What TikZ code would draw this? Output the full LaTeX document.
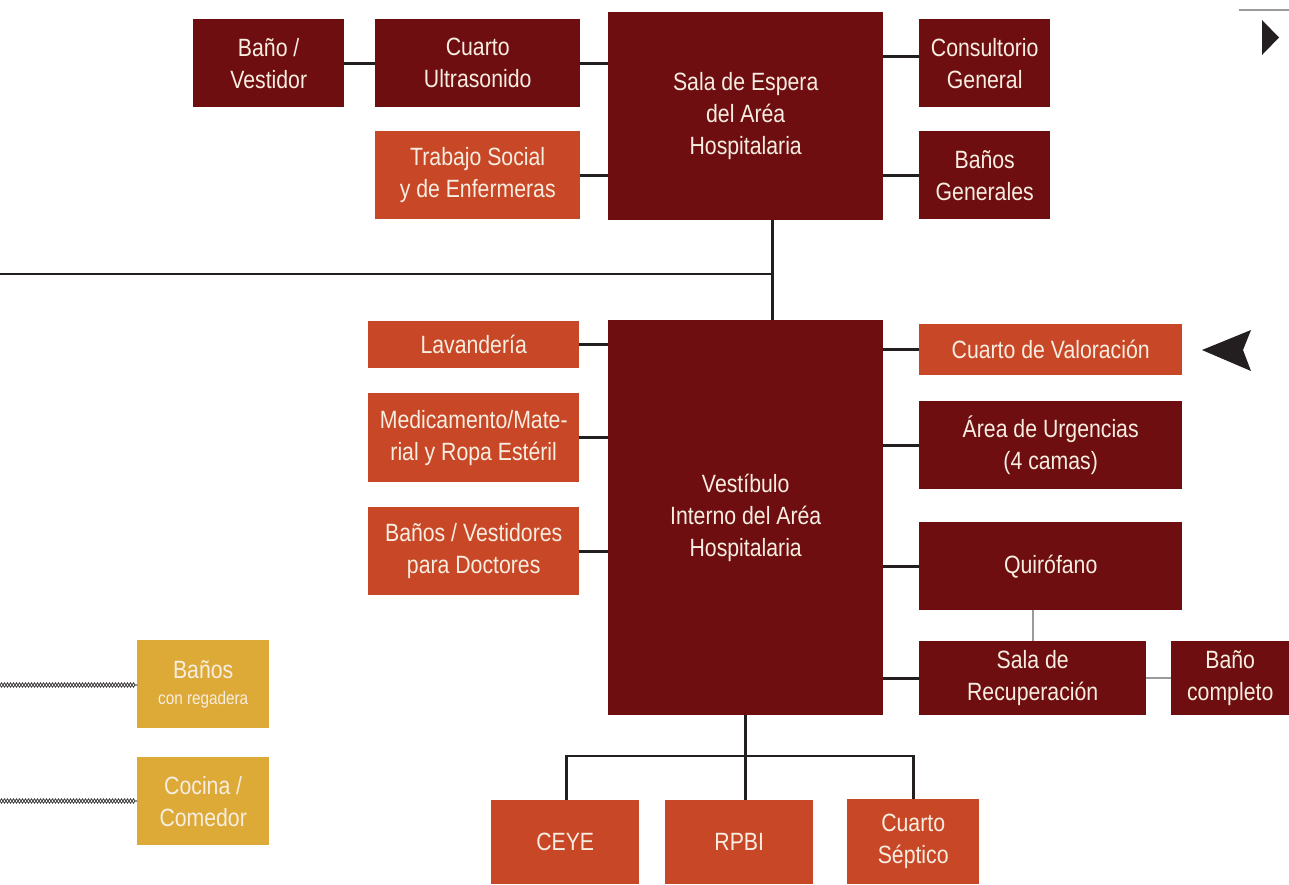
\documentclass[tikz,border=0pt]{standalone}
\usepackage{fontspec}
\setmainfont{Liberation Sans}[FakeStretch=0.85]
\usetikzlibrary{decorations.pathmorphing}
\definecolor{dred}{HTML}{6E0E10}
\definecolor{orng}{HTML}{C84727}
\definecolor{gold}{HTML}{DDAA37}
\definecolor{cream}{HTML}{F7EDE0}
\definecolor{ink}{HTML}{231F20}
\definecolor{gline}{HTML}{9A9A9A}
\tikzset{
  boxbase/.style={rectangle, inner sep=0pt, align=center, text=cream, anchor=north west,
    font=\fontsize{25}{32}\selectfont},
  dbox/.style={boxbase, fill=dred},
  obox/.style={boxbase, fill=orng},
  gbox/.style={boxbase, fill=gold},
  ln/.style={draw=ink, line width=2.6pt},
  gln/.style={draw=gline, line width=1.6pt},
  chainA/.style={draw=ink!85, line width=0.8pt, decorate, decoration={zigzag, segment length=6pt, amplitude=2.2pt}},
  chainB/.style={draw=ink!85, line width=0.8pt, decorate, decoration={zigzag, segment length=6pt, amplitude=-2.2pt}},
}
\begin{document}
\begin{tikzpicture}[x=1pt,y=-1pt]
\useasboundingbox (0,0) rectangle (1289,884);
% top area
\node[dbox, minimum width=151, minimum height=88] (banov) at (193,19) {Baño /\\Vestidor};
\node[dbox, minimum width=205, minimum height=88] (cuartou) at (375,19) {Cuarto\\Ultrasonido};
\node[dbox, minimum width=275, minimum height=208] (sala) at (608,12) {Sala de Espera\\del Aréa\\Hospitalaria};
\node[dbox, minimum width=131, minimum height=88] (consult) at (919,19) {Consultorio\\General};
\node[obox, minimum width=205, minimum height=88] (trabajo) at (375,131) {Trabajo Social\\y de Enfermeras};
\node[dbox, minimum width=131, minimum height=88] (banosg) at (919,131) {Baños\\Generales};
% middle
\node[obox, minimum width=211, minimum height=47] (lavan) at (368,321) {Lavandería};
\node[obox, minimum width=211, minimum height=89] (medic) at (368,393) {Medicamento/Mate-\\rial y Ropa Estéril};
\node[obox, minimum width=211, minimum height=88] (banosd) at (368,507) {Baños / Vestidores\\para Doctores};
\node[dbox, minimum width=275, minimum height=395] (vest) at (608,320) {Vestíbulo\\Interno del Aréa\\Hospitalaria};
\node[obox, minimum width=263, minimum height=51] (valor) at (919,324) {Cuarto de Valoración};
\node[dbox, minimum width=263, minimum height=88] (urg) at (919,401) {Área de Urgencias\\(4 camas)};
\node[dbox, minimum width=263, minimum height=88] (quiro) at (919,522) {Quirófano};
\node[dbox, minimum width=227, minimum height=74] (recup) at (919,641) {Sala de\\Recuperación};
\node[dbox, minimum width=118, minimum height=74] (banoc) at (1171,641) {Baño\\completo};
% left gold
\node[gbox, minimum width=132, minimum height=88] (banosr) at (137,640) {Baños\\[-6pt]{\fontsize{18}{22}\selectfont con regadera}};
\node[gbox, minimum width=132, minimum height=88] (cocina) at (137,757) {Cocina /\\Comedor};
% bottom
\node[obox, minimum width=148, minimum height=84] (ceye) at (491,800) {CEYE};
\node[obox, minimum width=148, minimum height=84] (rpbi) at (665,800) {RPBI};
\node[obox, minimum width=132, minimum height=85] (sept) at (847,799) {Cuarto\\Séptico};
% connectors top
\draw[ln] (banov.east) -- (cuartou.west);
\draw[ln] (cuartou.east) -- (cuartou.east -| sala.west);
\draw[ln] (trabajo.east) -- (trabajo.east -| sala.west);
\draw[ln] ([yshift=7pt]consult.west) -- ([yshift=7pt]consult.west -| sala.east);
\draw[ln] (banosg.west) -- (banosg.west -| sala.east);
\coordinate (sdrop) at ([xshift=26.5pt]sala.south);
\coordinate (hleft) at (0,274);
\draw[ln] (sdrop) -- (sdrop |- vest.north);
\draw[ln] (hleft) -- (hleft -| sdrop);
% connectors middle
\draw[ln] (lavan.east) -- (lavan.east -| vest.west);
\draw[ln] (medic.east) -- (medic.east -| vest.west);
\draw[ln] (banosd.east) -- (banosd.east -| vest.west);
\draw[ln] (valor.west) -- (valor.west -| vest.east);
\draw[ln] (urg.west) -- (urg.west -| vest.east);
\draw[ln] (quiro.west) -- (quiro.west -| vest.east);
\draw[ln] (recup.west) -- (recup.west -| vest.east);
\draw[gln] (quiro.south -| recup.north) -- (recup.north);
\draw[gln] (recup.east) -- (banoc.west);
% bottom tree
\coordinate (bus) at (746,756);
\draw[ln] (vest.south) -- (vest.south |- rpbi.north);
\draw[ln] ([xshift=1pt]ceye.north) |- (bus) -| (sept.north);
% chains
\coordinate (ch1) at (0,685);
\coordinate (ch2) at (0,801);
\draw[chainA] (ch1) -- (ch1 -| banosr.west);
\draw[chainB] (ch1) -- (ch1 -| banosr.west);
\draw[chainA] (ch2) -- (ch2 -| cocina.west);
\draw[chainB] (ch2) -- (ch2 -| cocina.west);
% decorations right
\coordinate (gl1) at (1239,10);
\coordinate (gl2) at (1289,10);
\draw[draw=gline, line width=2pt] (gl1) -- (gl2);
\fill[ink] (1262,20) -- (1279,37.5) -- (1262,55) -- cycle;
\fill[ink] (1202,350) -- (1251,330) -- (1243,350) -- (1251,371) -- cycle;
\end{tikzpicture}
\end{document}
